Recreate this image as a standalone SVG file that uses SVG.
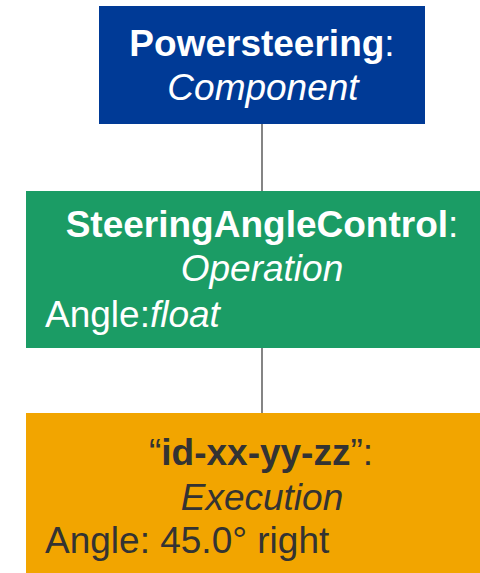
<svg xmlns="http://www.w3.org/2000/svg" width="480" height="573" viewBox="0 0 480 573">
  <style>
    text { font-family: "Liberation Sans", Arial, sans-serif; font-size: 37px; }
    .light { fill: #ffffff; }
    .dark { fill: #333333; }
    .b { font-weight: bold; }
    .i { font-style: italic; }
    .mid { text-anchor: middle; }
    .link { stroke: #333333; stroke-width: 1.2; fill: none; }
  </style>

  <!-- connectors -->
  <g id="connectors">
    <line class="link" x1="262" y1="124" x2="262" y2="191"/>
    <line class="link" x1="262" y1="348" x2="262" y2="413"/>
  </g>

  <!-- component node -->
  <g id="powersteering">
    <rect x="99" y="6" width="326" height="118" fill="#003A96"/>
    <text class="light mid" x="262" y="56"><tspan class="b">Powersteering</tspan>:</text>
    <text class="light mid i" x="263" y="100">Component</text>
  </g>

  <!-- operation node -->
  <g id="steering-angle-control">
    <rect x="26" y="191" width="454" height="157" fill="#1B9C65"/>
    <text class="light mid" x="262" y="237"><tspan class="b">SteeringAngleControl</tspan>:</text>
    <text class="light mid i" x="262" y="281">Operation</text>
    <text class="light" x="45" y="327">Angle:<tspan class="i">float</tspan></text>
  </g>

  <!-- execution node -->
  <g id="execution">
    <rect x="26" y="413" width="454" height="160" fill="#F2A500"/>
    <text class="dark mid" x="261" y="465">“<tspan class="b">id-xx-yy-zz</tspan>”:</text>
    <text class="dark mid i" x="262" y="510">Execution</text>
    <text class="dark" x="45" y="553">Angle: 45.0° right</text>
  </g>
</svg>
